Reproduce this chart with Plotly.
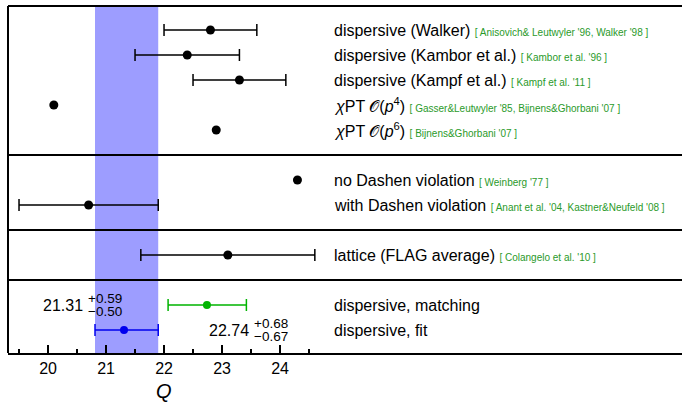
import plotly.graph_objects as go

# ---------------- data ----------------
labels = [
    "dispersive (Walker)",
    "dispersive (Kambor et al.)",
    "dispersive (Kampf et al.)",
    "<i>χ</i>PT 𝒪(<i>p</i><sup>4</sup>)",
    "<i>χ</i>PT 𝒪(<i>p</i><sup>6</sup>)",
    "no Dashen violation",
    "with Dashen violation",
    "lattice (FLAG average)",
    "dispersive, matching",
    "dispersive, fit",
]
refs = [
    "[ Anisovich& Leutwyler '96, Walker '98 ]",
    "[ Kambor et al. '96 ]",
    "[ Kampf et al. '11 ]",
    "[ Gasser&Leutwyler '85, Bijnens&Ghorbani '07 ]",
    "[ Bijnens&Ghorbani '07 ]",
    "[ Weinberg '77 ]",
    "[ Anant et al. '04, Kastner&Neufeld '08 ]",
    "[ Colangelo et al. '10 ]",
    "",
    "",
]
rows = [1, 2, 3, 4, 5, 7, 8, 10, 12, 13]
q_vals = [22.8, 22.4, 23.3, 20.1, 22.9, 24.3, 20.7, 23.1, 22.74, 21.31]
err_plus = [0.8, 0.9, 0.8, 0.0, 0.0, 0.0, 1.2, 1.5, 0.68, 0.59]
err_minus = [0.8, 0.9, 0.8, 0.0, 0.0, 0.0, 1.2, 1.5, 0.67, 0.50]
colors = ["black"] * 8 + ["#00b400", "#0000ee"]
separators = [6, 9, 11]
tick_vals = [20, 21, 22, 23, 24]
minor_vals = [19.5, 20.5, 21.5, 22.5, 23.5, 24.5]

fit_idx = 9
match_idx = 8

fig = go.Figure()

# band for fit result
fig.add_shape(type="rect", xref="x", yref="paper",
              x0=q_vals[fit_idx] - err_minus[fit_idx],
              x1=q_vals[fit_idx] + err_plus[fit_idx],
              y0=0, y1=1, fillcolor="#9d9dff", line_width=0, layer="below")

for i in range(len(labels)):
    has_err = err_plus[i] > 0 or err_minus[i] > 0
    fig.add_trace(go.Scatter(
        x=[q_vals[i]], y=[rows[i]], mode="markers",
        marker=dict(color=colors[i], size=9 if i < 8 else 8),
        error_x=dict(type="data", symmetric=False, array=[err_plus[i]],
                     arrayminus=[err_minus[i]], color=colors[i],
                     thickness=1.5, width=6, visible=has_err),
        showlegend=False, hoverinfo="skip"))

LABEL_X = 24.9
for i in range(len(labels)):
    txt = labels[i]
    if refs[i]:
        txt += " <span style='font-size:10px;color:#2a9a2a'>" + refs[i] + "</span>"
    fig.add_annotation(x=LABEL_X, y=rows[i], xref="x", yref="y", text=txt,
                       showarrow=False, xanchor="left", yanchor="middle",
                       font=dict(size=16, color="black",
                                 family="Liberation Sans, Arial, sans-serif"))

# value annotations
def value_label(val, ep, em, x_right_of_main, y_row):
    fig.add_annotation(x=x_right_of_main, y=y_row, xref="x", yref="y",
                       text=f"{val:.2f}", showarrow=False, xanchor="right",
                       yanchor="middle", borderpad=0,
                       font=dict(size=16, color="black"))
    fig.add_annotation(x=x_right_of_main, y=y_row, xref="x", yref="y",
                       text=f"+{ep:.2f}", showarrow=False, xanchor="left",
                       yanchor="middle", yshift=7, xshift=3, borderpad=0,
                       font=dict(size=13.5, color="black"))
    fig.add_annotation(x=x_right_of_main, y=y_row, xref="x", yref="y",
                       text=f"−{em:.2f}", showarrow=False, xanchor="left",
                       yanchor="middle", yshift=-6, xshift=3, borderpad=0,
                       font=dict(size=13.5, color="black"))

value_label(q_vals[fit_idx], err_plus[fit_idx], err_minus[fit_idx],
            20.62, rows[match_idx])
value_label(q_vals[match_idx], err_plus[match_idx], err_minus[match_idx],
            23.48, rows[fit_idx])

# frame lines
for s in separators:
    fig.add_shape(type="line", xref="paper", yref="y", x0=0, x1=1, y0=s, y1=s,
                  line=dict(color="black", width=2))
fig.add_shape(type="line", xref="paper", yref="paper", x0=0, x1=1, y0=1, y1=1,
              line=dict(color="black", width=2))
fig.add_shape(type="line", xref="paper", yref="paper", x0=0, x1=0, y0=0, y1=1,
              line=dict(color="black", width=2))

# axis title Q
fig.add_annotation(x=22, y=-0.072, xref="x", yref="paper", text="<i>Q</i>",
                   showarrow=False, yanchor="top",
                   font=dict(size=20, color="black"))

fig.update_xaxes(range=[19.31, 30.93], tickvals=tick_vals,
                 ticktext=[str(v) for v in tick_vals],
                 ticks="inside", ticklen=8, tickwidth=1.5, tickcolor="black",
                 minor=dict(tickvals=minor_vals, ticks="inside", ticklen=4,
                            tickwidth=1.5, tickcolor="black"),
                 showline=True, linecolor="black", linewidth=2,
                 showgrid=False, zeroline=False,
                 tickfont=dict(size=16, color="black"))
fig.update_yaxes(range=[13.92, 0.04], visible=False, showgrid=False,
                 zeroline=False)

fig.update_layout(width=682, height=403,
                  margin=dict(l=8, r=0, t=6, b=50),
                  plot_bgcolor="white", paper_bgcolor="white",
                  font=dict(family="Liberation Sans, Arial, sans-serif",
                            color="black"))

fig.write_html("out.html", config={"displayModeBar": False},
               post_script="document.body.style.margin='0';"
                           "document.body.style.overflow='hidden';")
